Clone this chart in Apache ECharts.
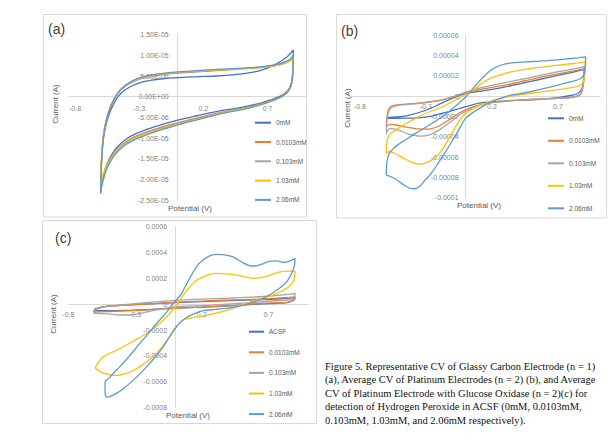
<!DOCTYPE html>
<html><head><meta charset="utf-8">
<script src="https://cdn.jsdelivr.net/npm/echarts@6/dist/echarts.min.js"></script>
<style>html,body{margin:0;padding:0;background:#fff}#c{width:610px;height:436px}</style>
</head><body><div id="c"></div>
<script>
// ---------- tick labels ----------
const xTicks = [-0.8, -0.3, 0.2, 0.7];
const xTickLabels = ['-0.8', '-0.3', '0.2', '0.7'];
const aYTicks = [-2.5e-5, -2e-5, -1.5e-5, -1e-5, -5e-6, 0, 5e-6, 1e-5, 1.5e-5];
const aYTickLabels = ['-2.50E-05', '-2.00E-05', '-1.50E-05', '-1.00E-05', '-5.00E-06', '0.00E+00', '5.00E-06', '1.00E-05', '1.50E-05'];
const bYTicks = [-1e-4, -8e-5, -6e-5, -4e-5, -2e-5, 0, 2e-5, 4e-5, 6e-5];
const bYTickLabels = ['-0.0001', '-0.00008', '-0.00006', '-0.00004', '-0.00002', '0', '0.00002', '0.00004', '0.00006'];
const cYTicks = [-8e-4, -6e-4, -4e-4, -2e-4, 0, 2e-4, 4e-4, 6e-4];
const cYTickLabels = ['-0.0008', '-0.0006', '-0.0004', '-0.0002', '0', '0.0002', '0.0004', '0.0006'];

// ---------- series names ----------
const namesAB = ['0mM', '0.0103mM', '0.103mM', '1.03mM', '2.06mM'];
const namesC = ['ACSF', '0.0103mM', '0.103mM', '1.03mM', '2.06mM'];

// ---------- panel (a): [potential V, current µA] ----------
const a_0mM = [[-0.6,-23.2],[-0.597,-18.5],[-0.59,-14],[-0.578,-10],[-0.56,-7],[-0.535,-4.3],[-0.5,-1.8],[-0.46,0.2],[-0.41,1.6],[-0.35,2.7],[-0.28,3.5],[-0.2,4.0],[-0.1,4.4],[0,4.6],[0.1,4.8],[0.2,4.9],[0.3,5.0],[0.4,5.2],[0.5,5.5],[0.6,6.0],[0.67,6.6],[0.74,7.5],[0.8,8.5],[0.85,9.6],[0.88,10.5],[0.9,11.3],
 [0.899,8.5],[0.895,5.5],[0.885,3.3],[0.865,1.8],[0.83,0.7],[0.78,-0.1],[0.72,-0.8],[0.64,-1.6],[0.55,-2.2],[0.45,-2.8],[0.35,-3.3],[0.25,-3.9],[0.15,-4.6],[0.05,-5.3],[-0.05,-6.1],[-0.15,-7.0],[-0.25,-8.0],[-0.33,-9.0],[-0.4,-10.2],[-0.46,-11.8],[-0.5,-13.3],[-0.535,-15.2],[-0.56,-17.0],[-0.58,-19.2],[-0.593,-21.2],[-0.6,-23.2]];
const a_0103 = [[-0.6,-22.7],[-0.597,-18],[-0.59,-13.5],[-0.578,-9.5],[-0.56,-6.4],[-0.535,-3.6],[-0.5,-1.0],[-0.46,1.0],[-0.41,2.5],[-0.35,3.6],[-0.28,4.4],[-0.2,5.0],[-0.1,5.4],[0,5.7],[0.1,5.9],[0.2,6.1],[0.3,6.3],[0.4,6.5],[0.5,6.7],[0.6,6.9],[0.67,7.1],[0.74,7.4],[0.8,7.9],[0.85,8.5],[0.88,9.0],[0.9,9.8],
 [0.899,7.5],[0.895,5.0],[0.885,3.0],[0.865,1.6],[0.83,0.5],[0.78,-0.3],[0.72,-1.0],[0.64,-1.8],[0.55,-2.5],[0.45,-3.1],[0.35,-3.7],[0.25,-4.4],[0.15,-5.1],[0.05,-5.9],[-0.05,-6.7],[-0.15,-7.6],[-0.25,-8.6],[-0.33,-9.6],[-0.4,-10.8],[-0.46,-12.4],[-0.5,-13.9],[-0.535,-15.8],[-0.56,-17.5],[-0.58,-19.6],[-0.593,-21.2],[-0.6,-22.7]];
const a_103 = [[-0.6,-21.9],[-0.597,-17.5],[-0.59,-13.2],[-0.578,-9.3],[-0.56,-6.2],[-0.535,-3.4],[-0.5,-0.9],[-0.46,1.1],[-0.41,2.6],[-0.35,3.7],[-0.28,4.5],[-0.2,5.1],[-0.1,5.5],[0,5.8],[0.1,6.0],[0.2,6.2],[0.3,6.4],[0.4,6.6],[0.5,6.8],[0.6,7.0],[0.67,7.2],[0.74,7.4],[0.8,7.8],[0.85,8.4],[0.88,8.9],[0.9,9.6],
 [0.899,7.3],[0.895,4.9],[0.885,2.9],[0.865,1.5],[0.83,0.4],[0.78,-0.4],[0.72,-1.1],[0.64,-1.9],[0.55,-2.6],[0.45,-3.2],[0.35,-3.8],[0.25,-4.5],[0.15,-5.3],[0.05,-6.1],[-0.05,-6.9],[-0.15,-7.8],[-0.25,-8.8],[-0.33,-9.8],[-0.4,-11.0],[-0.46,-12.5],[-0.5,-14.0],[-0.535,-15.8],[-0.56,-17.4],[-0.58,-19.3],[-0.593,-20.6],[-0.6,-21.9]];
const a_1030 = [[-0.6,-20.7],[-0.597,-16.8],[-0.59,-12.8],[-0.578,-9.0],[-0.56,-6.0],[-0.535,-3.2],[-0.5,-0.8],[-0.46,1.2],[-0.41,2.7],[-0.35,3.8],[-0.28,4.6],[-0.2,5.2],[-0.1,5.6],[0,5.9],[0.1,6.1],[0.2,6.3],[0.3,6.5],[0.4,6.6],[0.5,6.8],[0.6,7.0],[0.67,7.2],[0.74,7.4],[0.8,7.7],[0.85,8.2],[0.88,8.7],[0.9,9.3],
 [0.899,7.0],[0.895,4.7],[0.885,2.8],[0.865,1.4],[0.83,0.3],[0.78,-0.5],[0.72,-1.2],[0.64,-2.0],[0.55,-2.7],[0.45,-3.3],[0.35,-3.9],[0.25,-4.7],[0.15,-5.5],[0.05,-6.3],[-0.05,-7.1],[-0.15,-8.0],[-0.25,-9.0],[-0.33,-10.0],[-0.4,-11.2],[-0.46,-12.6],[-0.5,-14.0],[-0.535,-15.6],[-0.56,-17.0],[-0.58,-18.6],[-0.593,-19.7],[-0.6,-20.7]];
const a_2060 = [[-0.6,-23.5],[-0.597,-18.6],[-0.59,-13.8],[-0.578,-9.6],[-0.56,-6.3],[-0.535,-3.4],[-0.5,-0.8],[-0.46,1.2],[-0.41,2.7],[-0.35,3.9],[-0.28,4.7],[-0.2,5.3],[-0.1,5.7],[0,6.0],[0.1,6.2],[0.2,6.4],[0.3,6.6],[0.4,6.7],[0.5,6.9],[0.6,7.1],[0.67,7.3],[0.74,7.6],[0.8,8.0],[0.85,8.6],[0.88,9.2],[0.9,10.0],
 [0.899,7.6],[0.895,5.1],[0.885,3.0],[0.865,1.5],[0.83,0.4],[0.78,-0.4],[0.72,-1.2],[0.64,-2.0],[0.55,-2.8],[0.45,-3.4],[0.35,-4.0],[0.25,-4.8],[0.15,-5.6],[0.05,-6.4],[-0.05,-7.3],[-0.15,-8.2],[-0.25,-9.3],[-0.33,-10.3],[-0.4,-11.5],[-0.46,-13.0],[-0.5,-14.5],[-0.535,-16.3],[-0.56,-18.0],[-0.58,-20.2],[-0.593,-21.8],[-0.6,-23.5]];

// ---------- panel (b): [potential V, current µA] ----------
const b_0mM = [[-0.6,-22],[-0.58,-21],[-0.45,-19.5],[-0.3,-14],[-0.18,-7],[-0.08,-1],[0,2.3],[0.1,4.5],[0.2,6.5],[0.3,9],[0.44,13],[0.55,16],[0.69,20],[0.8,23],[0.86,25],[0.9,26.5],
 [0.895,17],[0.885,9],[0.87,4.5],[0.84,2],[0.8,0.5],[0.7,-1.5],[0.56,-3.3],[0.4,-4.2],[0.3,-4.7],[0.2,-5.5],[0.1,-7],[0.03,-9.5],[-0.05,-12.5],[-0.15,-16],[-0.25,-19.5],[-0.36,-21.4],[-0.48,-21.8],[-0.56,-22],[-0.6,-22]];
const b_0103 = [[-0.6,-30],[-0.598,-24],[-0.59,-16],[-0.575,-11.5],[-0.55,-9.5],[-0.5,-8.5],[-0.36,-7],[-0.18,-3.8],[-0.08,0],[0,3.3],[0.11,6.5],[0.2,8.5],[0.31,11],[0.45,15],[0.61,19.5],[0.75,23],[0.85,25.5],[0.9,27],
 [0.895,14],[0.885,6],[0.87,1.5],[0.84,-0.5],[0.8,-1.5],[0.7,-2.4],[0.6,-2.9],[0.4,-4],[0.2,-6.5],[0.1,-9],[0.03,-12],[-0.05,-17],[-0.12,-23],[-0.2,-29.5],[-0.28,-32.5],[-0.36,-32.3],[-0.45,-30.5],[-0.52,-28.5],[-0.57,-27.8],[-0.6,-30]];
const b_103 = [[-0.6,-37.5],[-0.598,-28],[-0.59,-19],[-0.575,-13.5],[-0.55,-10.5],[-0.5,-9],[-0.36,-7.5],[-0.18,-4],[-0.08,-0.3],[0,3.5],[0.11,8],[0.2,10.5],[0.31,13.5],[0.45,17],[0.61,21.5],[0.75,25],[0.85,27.5],[0.9,29],
 [0.895,15],[0.885,6.5],[0.87,2],[0.84,0],[0.8,-1.2],[0.7,-2.2],[0.6,-2.8],[0.4,-4],[0.2,-6.5],[0.1,-9.5],[0.03,-13],[-0.05,-19],[-0.12,-26],[-0.2,-33.5],[-0.28,-38.5],[-0.34,-39.5],[-0.43,-37.5],[-0.52,-33],[-0.57,-32],[-0.59,-33.5],[-0.6,-37.5]];
const b_1030 = [[-0.6,-57],[-0.598,-48],[-0.59,-42],[-0.57,-37],[-0.535,-33.8],[-0.45,-27],[-0.36,-20.7],[-0.27,-15.5],[-0.18,-10.8],[-0.1,-5.5],[-0.055,-2.6],[0,1.5],[0.07,7],[0.134,13.5],[0.2,18],[0.336,23.5],[0.45,26.3],[0.59,28.6],[0.75,31],[0.85,32.5],[0.91,33.5],
 [0.905,22],[0.895,15],[0.87,10.5],[0.79,8],[0.6,4.5],[0.4,1],[0.25,-2.5],[0.134,-8],[0.05,-13],[0,-17],[-0.05,-25],[-0.105,-37],[-0.18,-53.5],[-0.24,-61.5],[-0.3,-65.8],[-0.35,-67],[-0.41,-65],[-0.46,-61.7],[-0.535,-56.5],[-0.58,-54.5],[-0.6,-57]];
const b_2060 = [[-0.6,-78],[-0.598,-68],[-0.59,-61],[-0.575,-56],[-0.535,-50.2],[-0.46,-43.5],[-0.383,-37],[-0.28,-29],[-0.18,-20.7],[-0.1,-12.5],[-0.055,-7.5],[0,-1],[0.06,8],[0.134,18.7],[0.2,26],[0.26,30],[0.336,32.3],[0.45,33.5],[0.59,34.5],[0.75,36.3],[0.85,37.5],[0.91,38.4],
 [0.905,27],[0.895,21],[0.87,17],[0.79,13.8],[0.69,10.5],[0.59,7.3],[0.45,3.2],[0.336,0.7],[0.25,-3],[0.18,-6.5],[0.134,-10],[0.07,-15],[0,-22],[-0.05,-33],[-0.105,-45],[-0.16,-56.5],[-0.207,-66],[-0.26,-76],[-0.308,-83],[-0.345,-88.5],[-0.383,-91.2],[-0.42,-90.8],[-0.46,-88],[-0.535,-81.4],[-0.58,-78.5],[-0.6,-78]];

// ---------- panel (c): [potential V, current mA] ----------
const c_acsf = [[-0.61,-0.05],[-0.6,-0.035],[-0.5,-0.015],[-0.3,-0.002],[0,0.012],[0.2,0.02],[0.412,0.028],[0.662,0.036],[0.812,0.045],[0.9,0.052],
 [0.895,0.035],[0.84,0.012],[0.662,0.004],[0.412,-0.012],[0.2,-0.022],[0,-0.03],[-0.3,-0.045],[-0.61,-0.05]];
const c_0103 = [[-0.61,-0.06],[-0.6,-0.04],[-0.55,-0.022],[-0.487,-0.013],[-0.263,0.0],[0,0.015],[0.2,0.025],[0.412,0.033],[0.662,0.041],[0.812,0.051],[0.88,0.056],[0.9,0.059],
 [0.895,0.04],[0.88,0.03],[0.838,0.015],[0.662,0.008],[0.412,-0.011],[0.2,-0.022],[0,-0.031],[-0.15,-0.04],[-0.3,-0.048],[-0.5,-0.056],[-0.61,-0.06]];
const c_103 = [[-0.61,-0.07],[-0.6,-0.045],[-0.55,-0.025],[-0.45,-0.01],[-0.3,0.005],[-0.15,0.018],[0,0.03],[0.2,0.04],[0.412,0.048],[0.662,0.06],[0.812,0.072],[0.88,0.08],[0.9,0.085],
 [0.895,0.055],[0.88,0.042],[0.838,0.033],[0.662,0.02],[0.412,0.002],[0.2,-0.01],[0,-0.018],[-0.137,-0.044],[-0.263,-0.07],[-0.338,-0.083],[-0.42,-0.083],[-0.5,-0.075],[-0.57,-0.072],[-0.61,-0.07]];
const c_1030 = [[-0.6,-0.494],[-0.57,-0.44],[-0.537,-0.405],[-0.46,-0.365],[-0.387,-0.327],[-0.3,-0.278],[-0.212,-0.224],[-0.13,-0.16],[-0.062,-0.096],[0.013,-0.005],[0.06,0.07],[0.112,0.136],[0.16,0.185],[0.212,0.213],[0.26,0.232],[0.313,0.239],[0.38,0.235],[0.463,0.226],[0.53,0.21],[0.587,0.2],[0.65,0.208],[0.712,0.226],[0.787,0.25],[0.85,0.257],[0.9,0.257],
 [0.895,0.2],[0.887,0.175],[0.838,0.124],[0.737,0.072],[0.612,0.033],[0.487,-0.01],[0.412,-0.04],[0.3,-0.07],[0.212,-0.09],[0.12,-0.105],[0.062,-0.12],[0.02,-0.16],[-0.037,-0.25],[-0.09,-0.32],[-0.137,-0.378],[-0.2,-0.435],[-0.263,-0.482],[-0.33,-0.52],[-0.387,-0.541],[-0.437,-0.55],[-0.487,-0.546],[-0.53,-0.535],[-0.562,-0.52],[-0.6,-0.494]];
const c_2060 = [[-0.525,-0.69],[-0.525,-0.6],[-0.5,-0.575],[-0.437,-0.507],[-0.35,-0.41],[-0.263,-0.301],[-0.2,-0.225],[-0.137,-0.147],[-0.07,-0.07],[-0.013,0.008],[0.04,0.07],[0.088,0.16],[0.137,0.25],[0.175,0.31],[0.212,0.345],[0.26,0.375],[0.313,0.386],[0.37,0.382],[0.438,0.365],[0.512,0.32],[0.56,0.298],[0.6,0.296],[0.65,0.31],[0.7,0.33],[0.76,0.335],[0.81,0.325],[0.85,0.33],[0.9,0.355],
 [0.895,0.3],[0.87,0.23],[0.838,0.175],[0.79,0.13],[0.72,0.08],[0.66,0.046],[0.563,0.008],[0.5,-0.01],[0.412,-0.028],[0.3,-0.04],[0.212,-0.05],[0.15,-0.07],[0.088,-0.1],[0.04,-0.14],[0.013,-0.17],[-0.03,-0.23],[-0.088,-0.327],[-0.15,-0.41],[-0.212,-0.482],[-0.275,-0.55],[-0.338,-0.61],[-0.39,-0.655],[-0.437,-0.687],[-0.48,-0.71],[-0.512,-0.718],[-0.525,-0.69]];

const colors = ['#4472C4', '#ED7D31', '#A5A5A5', '#FFC000', '#5B9BD5'];
const captionLines = [
  'Figure 5. Representative CV of Glassy Carbon Electrode (n = 1)',
  '(a), Average CV of Platinum Electrodes (n = 2) (b), and Average',
  'CV of Platinum Electrode with Glucose Oxidase (n = 2)(c) for',
  'detection of Hydrogen Peroxide in ACSF (0mM, 0.0103mM,',
  '0.103mM, 1.03mM, and 2.06mM respectively).'
];

const FONT = 'Liberation Sans';
const TXT = '#595959';
function xAx(gi, min, max) {
  return {
    gridIndex: gi, type: 'value', min: min, max: max,
    axisLine: { onZero: true, lineStyle: { color: '#D9D9D9', width: 1 } },
    axisTick: { show: false }, splitLine: { show: false }, axisLabel: { show: false }
  };
}
function yAx(gi, ticks) {
  return {
    gridIndex: gi, type: 'value', min: ticks[0], max: ticks[ticks.length - 1],
    axisLine: { show: true, onZero: true, lineStyle: { color: '#D9D9D9', width: 1 } },
    axisTick: { show: false }, splitLine: { show: false }, axisLabel: { show: false }
  };
}
// tick labels placed through the axes' own scales (anchored on the zero lines)
function tickLabels(idx, pts, labels, pos, dist) {
  return {
    type: 'scatter', name: 'ticks' + idx + pos, xAxisIndex: idx, yAxisIndex: idx, silent: true,
    symbol: 'circle', symbolSize: 0.01, itemStyle: { color: 'rgba(0,0,0,0)' }, z: 1,
    data: pts,
    label: { show: true, position: pos, distance: dist, fontSize: 7, lineHeight: 8, color: TXT, fontFamily: FONT,
      formatter: p => labels[p.dataIndex] }
  };
}
function ser(name, pts, scale, idx, ci) {
  return {
    type: 'line', name: name, xAxisIndex: idx, yAxisIndex: idx,
    data: pts.map(p => [p[0], p[1] * scale]),
    symbol: 'none', showSymbol: false, smooth: 0.3, silent: true, z: 3,
    lineStyle: { width: 1.3, color: colors[ci] }, itemStyle: { color: colors[ci] }
  };
}
function legend(names, left, top, iw, gap) {
  return {
    data: names, orient: 'vertical', left: left, top: top, padding: 0,
    icon: 'rect', itemWidth: iw, itemHeight: 2, itemGap: gap, selectedMode: false,
    textStyle: { fontSize: 6.5, color: TXT, fontFamily: FONT, lineHeight: 10 }
  };
}
function txt(t, x, y, size, opts) {
  opts = opts || {};
  return {
    type: 'text', x: x, y: y, rotation: opts.rot || 0, silent: true,
    style: { text: t, x: 0, y: 0, fill: opts.fill || TXT, font: (opts.font || (size + 'px ' + FONT)),
      textAlign: opts.align || 'center', textVerticalAlign: 'middle' }
  };
}
function box(x, y, w, h) {
  return { type: 'rect', silent: true, shape: { x: x, y: y, width: w, height: h },
    style: { fill: 'none', stroke: '#D9D9D9', lineWidth: 1 } };
}

const aData = [a_0mM, a_0103, a_103, a_1030, a_2060];
const bData = [b_0mM, b_0103, b_103, b_1030, b_2060];
const cData = [c_acsf, c_0103, c_103, c_1030, c_2060];
const series = [];
aData.forEach((d, i) => series.push(ser(namesAB[i], d, 1e-6, 0, i)));
bData.forEach((d, i) => series.push(ser(namesAB[i], d, 1e-6, 1, i)));
cData.forEach((d, i) => series.push(ser(namesC[i], d, 1e-3, 2, i)));
const yTickSets = [aYTicks, bYTicks, cYTicks];
const yLabelSets = [aYTickLabels, bYTickLabels, cYTickLabels];
const yDist = [9, 7, 8];
const xDist = [7.5, 6.5, 6.5];
for (let k = 0; k < 3; k++) {
  series.push(tickLabels(k, yTickSets[k].map(t => [0, t]), yLabelSets[k], 'left', yDist[k]));
  series.push(tickLabels(k, xTicks.map(t => [t, 0]), xTickLabels, 'bottom', xDist[k]));
}

const graphics = [
  box(43.5, 14.5, 263, 202.5),
  box(336.5, 14.5, 270, 203.5),
  box(42.5, 220.5, 274, 203),
  txt('(a)', 48, 29, 14, { align: 'left', fill: '#404040' }),
  txt('(b)', 341, 31, 14, { align: 'left', fill: '#404040' }),
  txt('(c)', 55, 238, 14, { align: 'left', fill: '#404040' }),
  txt('Current (A)', 55, 104, 8, { rot: Math.PI / 2 }),
  txt('Current (A)', 347, 108, 8, { rot: Math.PI / 2 }),
  txt('Current (A)', 53.5, 314, 8, { rot: Math.PI / 2 }),
  txt('Potential (V)', 190, 208, 8),
  txt('Potential (V)', 479, 205, 8),
  txt('Potential (V)', 188, 415.5, 8)
];
captionLines.forEach((t, i) => graphics.push(txt(t, 325, 366 + i * 13.5, 10.5, { align: 'left', fill: '#111', font: '10.5px "Liberation Serif"' })));

const chart = echarts.init(document.getElementById('c'), null, { renderer: 'svg', width: 610, height: 436 });
chart.setOption({
  backgroundColor: '#ffffff',
  animation: false,
  grid: [
    { left: 68.6, top: 34.6, width: 237.5, height: 165.6, outerBoundsMode: 'none' },
    { left: 349.4, top: 35, width: 250.8, height: 162.7, outerBoundsMode: 'none' },
    { left: 68.4, top: 226.7, width: 240, height: 181, outerBoundsMode: 'none' }
  ],
  xAxis: [xAx(0, -0.85, 1.0), xAx(1, -0.88, 1.02), xAx(2, -0.8, 1.0)],
  yAxis: [yAx(0, aYTicks), yAx(1, bYTicks), yAx(2, cYTicks)],
  legend: [
    legend(namesAB, 255, 117.7, 16, 9.3),
    legend(namesAB, 548, 113.3, 16, 12.5),
    legend(namesC, 249, 326.7, 15, 10.6)
  ],
  series: series,
  graphic: graphics
});
</script>
</body></html>
